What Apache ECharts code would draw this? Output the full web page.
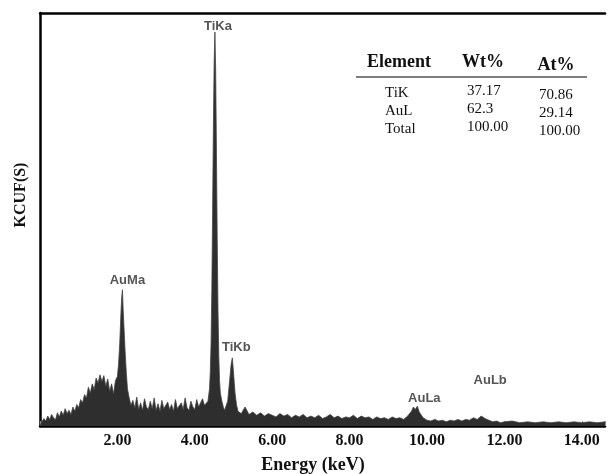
<!DOCTYPE html>
<html>
<head>
<meta charset="utf-8">
<script src="https://cdn.jsdelivr.net/npm/echarts@6/dist/echarts.min.js"></script>
<style>
  html, body { margin: 0; padding: 0; background: #fff; }
  #main { width: 608px; height: 474px; }
</style>
</head>
<body>
<div id="main"></div>
<script>
// spectrum, [energy keV, counts in % of full scale]
const lowBand = [
  [0.00, 0], [0.05, 1.0], [0.10, 1.8], [0.15, 1.2], [0.20, 2.4], [0.25, 1.6], [0.30, 2.8], [0.35, 2.0],
  [0.40, 1.5], [0.45, 3.2], [0.50, 2.2], [0.55, 3.6], [0.60, 2.6], [0.65, 4.2], [0.70, 3.0], [0.75, 3.8],
  [0.80, 2.8], [0.85, 4.6], [0.90, 3.6], [0.95, 5.2], [1.00, 4.4], [1.05, 6.4], [1.10, 5.6], [1.15, 7.6],
  [1.20, 6.8], [1.25, 9.4], [1.30, 8.0], [1.35, 10.2], [1.40, 8.8], [1.45, 11.6], [1.50, 10.4], [1.55, 12.4],
  [1.60, 10.8], [1.65, 12.2], [1.70, 9.6], [1.75, 11.4], [1.80, 8.4], [1.85, 10.2], [1.90, 7.8], [1.95, 11.0]
];
const auMaBand = [
  [2.00, 12], [2.03, 15], [2.06, 20], [2.09, 27], [2.11, 31], [2.13, 33], [2.15, 28], [2.17, 24],
  [2.20, 18], [2.23, 13], [2.26, 9], [2.30, 7], [2.35, 5]
];
const midBand = [
  [2.40, 6.2], [2.45, 4.4], [2.50, 7.0], [2.55, 4.0], [2.60, 5.6], [2.65, 3.8], [2.70, 6.6], [2.75, 4.6],
  [2.80, 4.0], [2.85, 6.0], [2.90, 4.2], [2.95, 6.8], [3.00, 3.8], [3.05, 5.4], [3.10, 3.6], [3.15, 6.2],
  [3.20, 4.2], [3.25, 3.8], [3.30, 5.8], [3.35, 4.0], [3.40, 5.2], [3.45, 3.6], [3.50, 6.4], [3.55, 4.2],
  [3.60, 3.8], [3.65, 5.6], [3.70, 4.0], [3.75, 6.8], [3.80, 4.4], [3.85, 3.8], [3.90, 6.0], [3.95, 4.6],
  [4.00, 4.0], [4.05, 6.4], [4.10, 4.6], [4.15, 5.6], [4.20, 6.6], [4.25, 5.0]
];
const tiBand = [
  [4.30, 5], [4.34, 6], [4.38, 9], [4.40, 13], [4.42, 20], [4.44, 33], [4.46, 52], [4.48, 72],
  [4.50, 88], [4.52, 95.4], [4.54, 86], [4.56, 66], [4.58, 45], [4.60, 28], [4.62, 17], [4.64, 11],
  [4.66, 8], [4.70, 6], [4.74, 4.5], [4.77, 3.8], [4.80, 4], [4.85, 6], [4.90, 11], [4.94, 15],
  [4.97, 16.5], [5.00, 13], [5.04, 8], [5.08, 5], [5.12, 3.5]
];
const highBand = [
  [5.20, 3.0], [5.30, 4.6], [5.40, 2.8], [5.50, 3.4], [5.60, 2.6], [5.70, 3.2], [5.80, 2.4], [5.90, 3.0],
  [6.00, 2.6], [6.10, 2.2], [6.20, 3.0], [6.30, 2.4], [6.40, 2.8], [6.50, 2.0], [6.60, 2.6], [6.70, 2.2],
  [6.80, 2.8], [6.90, 2.0], [7.00, 2.4], [7.10, 2.0], [7.20, 2.6], [7.30, 1.8], [7.40, 2.2], [7.50, 2.8],
  [7.60, 2.0], [7.70, 2.4], [7.80, 1.8], [7.90, 2.2], [8.00, 2.0], [8.10, 2.6], [8.20, 1.8], [8.30, 2.4],
  [8.40, 2.0], [8.50, 2.2], [8.60, 1.6], [8.70, 2.2], [8.80, 1.8], [8.90, 2.0], [9.00, 1.6], [9.10, 2.2],
  [9.20, 1.8], [9.30, 2.0], [9.40, 1.6], [9.50, 2.4], [9.60, 3.6], [9.65, 4.6], [9.70, 4.0], [9.75, 4.8],
  [9.80, 3.4], [9.90, 2.0], [10.00, 1.4], [10.10, 1.2], [10.20, 1.6], [10.30, 1.2], [10.40, 1.4], [10.50, 1.0],
  [10.60, 1.4], [10.70, 1.2], [10.80, 1.6], [10.90, 1.2], [11.00, 1.6], [11.10, 1.4], [11.20, 2.0], [11.30, 1.6],
  [11.40, 2.4], [11.50, 1.8], [11.60, 1.4], [11.70, 1.0], [11.80, 1.2], [11.90, 0.8], [12.00, 1.0], [12.20, 1.2],
  [12.40, 0.8], [12.60, 1.0], [12.80, 0.8], [13.00, 1.0], [13.20, 0.8], [13.40, 1.0], [13.60, 0.8], [13.80, 1.0],
  [14.00, 0.8], [14.20, 1.0], [14.40, 0.8], [14.60, 1.0]
];

// peak labels
const peakNames = ['AuMa', 'TiKa', 'TiKb', 'AuLa', 'AuLb'];
const peakEnergies = [2.13, 4.52, 4.97, 9.75, 11.40];
const peakHeights = [33, 95.4, 16.5, 4.8, 2.4];
const peakLabelOffsets = [[5, -9], [3, -6], [4, -10], [7, -8], [9, -36]];

// inset table
const tableHeader = ['Element', 'Wt%', 'At%'];
const tableRows = [
  ['TiK', '37.17', '70.86'],
  ['AuL', '62.3', '29.14'],
  ['Total', '100.00', '100.00']
];

const spectrum = [].concat(lowBand, auMaBand, midBand, tiBand, highBand);
const serif = '"Liberation Serif", "DejaVu Serif", serif';

let myChart = echarts.init(document.getElementById('main'));

// table drawn as graphic text
let tableGraphic = [];
const headerX = [399, 483, 556];
const headerY = [62, 62, 65];
tableHeader.forEach((t, i) => {
  tableGraphic.push({
    type: 'text', x: headerX[i], y: headerY[i],
    style: {text: t, font: 'bold 18px ' + serif, fill: '#111', align: 'center', verticalAlign: 'middle'}
  });
});
tableGraphic.push({
  type: 'line', shape: {x1: 356, y1: 77, x2: 587, y2: 77},
  style: {stroke: '#555', lineWidth: 1.5}
});
const colX = [385, 467, 539];
const colDy = [0, -2, 2];
tableRows.forEach((row, r) => {
  row.forEach((t, c) => {
    tableGraphic.push({
      type: 'text', x: colX[c], y: 93 + r * 18 + colDy[c],
      style: {text: t, font: '15px ' + serif, fill: '#111', align: 'left', verticalAlign: 'middle'}
    });
  });
});

let option = {
  backgroundColor: '#fff',
  animation: false,
  grid: {left: 40, top: 13, right: 0, bottom: 48},
  xAxis: [
    {
      type: 'value',
      min: 0, max: 14.6, interval: 2,
      axisLine: {show: true, lineStyle: {color: '#000', width: 2.5}},
      axisTick: {show: true, inside: true, length: 5, lineStyle: {color: '#888'}},
      splitLine: {show: false},
      axisLabel: {
        color: '#111', fontFamily: serif, fontWeight: 'bold', fontSize: 16, margin: 7,
        formatter: v => (v === 0 || v > 14.5) ? '' : v.toFixed(2)
      }
    },
    {
      // top frame line only
      type: 'value', position: 'top',
      min: 0, max: 14.6,
      axisLine: {show: true, lineStyle: {color: '#000', width: 2.5}},
      axisTick: {show: false},
      axisLabel: {show: false},
      splitLine: {show: false}
    }
  ],
  yAxis: {
    type: 'value',
    min: 0, max: 100,
    axisLine: {show: true, lineStyle: {color: '#000', width: 2.5}},
    axisTick: {show: false},
    axisLabel: {show: false},
    splitLine: {show: false}
  },
  series: [
    {
      name: 'spectrum',
      type: 'line',
      data: spectrum,
      symbol: 'none',
      sampling: 'none',
      lineStyle: {color: '#444', width: 0.8},
      areaStyle: {color: '#2e2e2e', opacity: 1},
      markPoint: {
        symbol: 'circle',
        symbolSize: 0,
        data: peakNames.map((n, i) => ({
          name: n,
          coord: [peakEnergies[i], peakHeights[i]],
          label: {offset: peakLabelOffsets[i]}
        })),
        label: {
          show: true, position: 'inside', formatter: '{b}',
          color: '#555', fontFamily: '"Liberation Sans", Arial, sans-serif',
          fontWeight: 'bold', fontSize: 13
        }
      }
    }
  ],
  graphic: tableGraphic.concat([
    {
      type: 'text', x: 313, y: 465,
      style: {text: 'Energy (keV)', font: 'bold 18px ' + serif, fill: '#111', align: 'center', verticalAlign: 'middle'}
    },
    {
      type: 'text', x: 21, y: 195, rotation: Math.PI / 2,
      style: {text: 'KCUF(S)', font: 'bold 16px ' + serif, fill: '#111', align: 'center', verticalAlign: 'middle'}
    }
  ])
};

myChart.setOption(option);
window.onresize = function () {
  if (myChart) {
    myChart.resize();
  }
};
</script>
</body>
</html>
